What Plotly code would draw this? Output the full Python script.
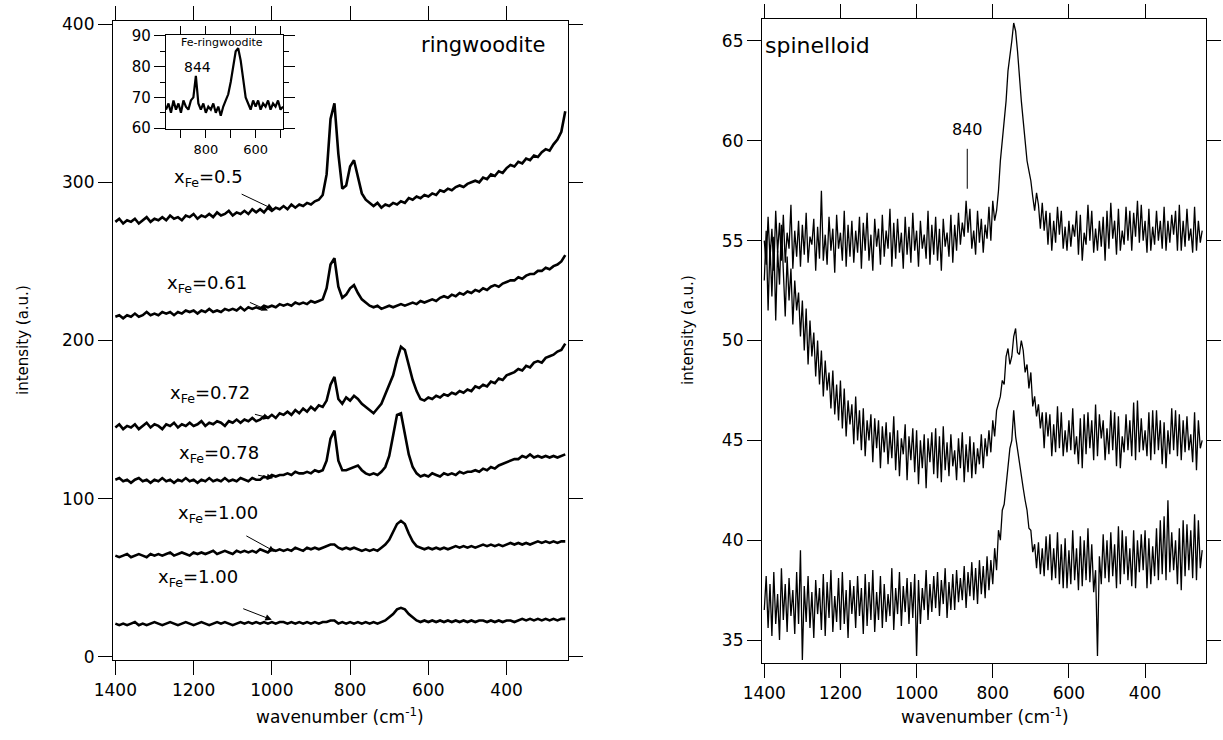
import plotly.graph_objects as go

# ---------------- data ----------------
WN = [1400, 1390, 1380, 1370, 1360, 1350, 1340, 1330, 1320, 1310,
      1300, 1290, 1280, 1270, 1260, 1250, 1240, 1230, 1220, 1210,
      1200, 1190, 1180, 1170, 1160, 1150, 1140, 1130, 1120, 1110,
      1100, 1090, 1080, 1070, 1060, 1050, 1040, 1030, 1020, 1010,
      1000, 990, 980, 970, 960, 950, 940, 930, 920, 910,
      900, 890, 880, 870, 860, 850, 840, 830, 820, 810,
      800, 790, 780, 770, 760, 750, 740, 730, 720, 710,
      700, 690, 680, 670, 660, 650, 640, 630, 620, 610,
      600, 590, 580, 570, 560, 550, 540, 530, 520, 510,
      500, 490, 480, 470, 460, 450, 440, 430, 420, 410,
      400, 390, 380, 370, 360, 350, 340, 330, 320, 310,
      300, 290, 280, 270, 260, 250]

ring_050 = [275, 277, 274, 276, 275, 277, 274, 276, 278, 275,
            277, 276, 278, 276, 279, 277, 278, 276, 279, 278,
            280, 277, 279, 278, 280, 278, 281, 279, 280, 282,
            279, 281, 280, 282, 280, 283, 281, 283, 281, 284,
            282, 284, 283, 285, 283, 286, 284, 286, 285, 287,
            286, 288, 289, 292, 305, 340, 350, 318, 296, 298,
            310, 314, 303, 293, 289, 287, 285, 287, 284, 286,
            285, 287, 286, 288, 287, 290, 289, 291, 290, 292,
            291, 293, 292, 295, 294, 296, 295, 297, 298, 297,
            299, 300, 301, 300, 303, 302, 305, 304, 307, 306,
            309, 311, 310, 313, 312, 315, 314, 317, 316, 319,
            321, 320, 324, 327, 332, 345]

ring_061 = [215, 216, 214, 216, 215, 217, 215, 216, 218, 216,
            217, 216, 218, 217, 218, 216, 218, 217, 219, 218,
            219, 217, 219, 218, 220, 218, 219, 218, 220, 219,
            220, 219, 221, 219, 221, 220, 221, 220, 222, 221,
            222, 221, 223, 222, 223, 222, 224, 223, 224, 223,
            225, 224, 225, 226, 233, 248, 252, 234, 227, 229,
            233, 235, 230, 226, 224, 222, 221, 222, 220, 221,
            222, 221, 222, 223, 222, 223, 224, 223, 225, 224,
            225, 226, 225, 227, 228, 227, 229, 228, 230, 229,
            231, 230, 232, 231, 233, 232, 234, 235, 234, 236,
            237, 238, 238, 240, 239, 241, 242, 242, 244, 244,
            246, 245, 247, 248, 250, 254]

ring_072 = [145, 147, 144, 146, 145, 147, 144, 146, 148, 145,
            147, 146, 144, 147, 146, 148, 145, 147, 146, 148,
            146, 147, 149, 146, 148, 147, 149, 148, 146, 149,
            148, 150, 148, 150, 149, 151, 149, 150, 152, 151,
            153, 151, 154, 153, 155, 153, 156, 154, 157, 155,
            158, 156, 159, 158, 162, 172, 177, 163, 160, 164,
            162, 165, 163, 160, 158, 156, 154, 157, 160, 166,
            172, 178, 188, 196, 194, 184, 175, 168, 163, 162,
            164, 163, 165, 164, 166, 165, 167, 166, 168, 167,
            169, 168, 171, 170, 172, 171, 174, 173, 176, 175,
            178, 179, 180, 182, 181, 184, 183, 186, 187, 186,
            189, 190, 191, 193, 194, 198]

ring_078 = [112, 113, 111, 112, 110, 112, 113, 111, 112, 110,
            112, 111, 113, 111, 112, 110, 112, 111, 113, 111,
            112, 110, 112, 111, 113, 111, 112, 111, 113, 111,
            112, 111, 113, 112, 111, 113, 112, 112, 114, 113,
            115, 114, 115, 115, 116, 115, 117, 116, 116, 117,
            116, 118, 117, 118, 124, 138, 143, 124, 118, 118,
            119, 120, 121, 118, 116, 115, 116, 115, 117, 120,
            127, 140, 153, 154, 140, 128, 120, 116, 114, 115,
            114, 116, 115, 114, 116, 115, 116, 115, 117, 116,
            117, 117, 118, 117, 119, 118, 120, 119, 121, 122,
            123, 124, 125, 125, 127, 126, 128, 126, 127, 126,
            127, 126, 127, 126, 127, 128]

ring_100a = [64, 63, 64, 65, 63, 64, 65, 64, 63, 65,
             64, 65, 64, 65, 66, 64, 65, 66, 65, 64,
             66, 65, 66, 65, 66, 67, 65, 66, 67, 66,
             65, 67, 66, 67, 66, 67, 66, 68, 67, 66,
             68, 67, 68, 67, 68, 67, 69, 68, 67, 69,
             68, 69, 68, 69, 70, 71, 71, 69, 68, 69,
             68, 69, 68, 67, 68, 67, 68, 67, 69, 71,
             74, 79, 84, 86, 84, 78, 73, 70, 69, 68,
             69, 68, 69, 68, 69, 68, 69, 70, 69, 70,
             69, 70, 69, 70, 71, 70, 71, 70, 71, 70,
             71, 72, 71, 72, 71, 72, 71, 72, 73, 72,
             73, 72, 73, 72, 73, 73]

ring_100b = [21, 20, 21, 20, 21, 22, 20, 21, 20, 21,
             22, 21, 20, 21, 22, 21, 20, 21, 22, 21,
             20, 21, 22, 21, 20, 21, 22, 21, 22, 21,
             20, 21, 22, 21, 22, 21, 22, 21, 22, 21,
             22, 21, 22, 22, 21, 22, 21, 22, 21, 22,
             21, 22, 21, 22, 22, 23, 23, 21, 22, 21,
             22, 21, 22, 21, 22, 21, 22, 21, 22, 23,
             25, 27, 30, 31, 30, 27, 25, 23, 22, 23,
             22, 23, 22, 23, 22, 23, 22, 23, 22, 23,
             22, 23, 22, 23, 23, 22, 23, 22, 23, 22,
             23, 23, 22, 23, 24, 23, 24, 23, 24, 23,
             24, 23, 24, 23, 24, 24]

WN_INSET = [960, 950, 940, 930, 920, 910, 900, 890, 880, 870,
            860, 850, 840, 830, 820, 810, 800, 790, 780, 770,
            760, 750, 740, 730, 720, 710, 700, 690, 680, 670,
            660, 650, 640, 630, 620, 610, 600, 590, 580, 570,
            560, 550, 540, 530, 520, 510, 500, 490]
fe_ring_inset = [66, 68, 65, 69, 66, 68, 65, 69, 67, 66,
                 69, 70, 77, 68, 66, 68, 65, 67, 66, 68,
                 65, 67, 64, 67, 69, 71, 75, 80, 85, 86,
                 82, 76, 70, 68, 66, 69, 67, 69, 66, 68,
                 67, 69, 66, 68, 67, 69, 66, 67]

# spinelloid spectra, read every 5 cm-1
WN5 = [1400, 1395, 1390, 1385, 1380, 1375, 1370, 1365, 1360, 1355,
       1350, 1345, 1340, 1335, 1330, 1325, 1320, 1315, 1310, 1305,
       1300, 1295, 1290, 1285, 1280, 1275, 1270, 1265, 1260, 1255,
       1250, 1245, 1240, 1235, 1230, 1225, 1220, 1215, 1210, 1205,
       1200, 1195, 1190, 1185, 1180, 1175, 1170, 1165, 1160, 1155,
       1150, 1145, 1140, 1135, 1130, 1125, 1120, 1115, 1110, 1105,
       1100, 1095, 1090, 1085, 1080, 1075, 1070, 1065, 1060, 1055,
       1050, 1045, 1040, 1035, 1030, 1025, 1020, 1015, 1010, 1005,
       1000, 995, 990, 985, 980, 975, 970, 965, 960, 955,
       950, 945, 940, 935, 930, 925, 920, 915, 910, 905,
       900, 895, 890, 885, 880, 875, 870, 865, 860, 855,
       850, 845, 840, 835, 830, 825, 820, 815, 810, 805,
       800, 795, 790, 785, 780, 775, 770, 765, 760, 755,
       750, 745, 740, 735, 730, 725, 720, 715, 710, 705,
       700, 695, 690, 685, 680, 675, 670, 665, 660, 655,
       650, 645, 640, 635, 630, 625, 620, 615, 610, 605,
       600, 595, 590, 585, 580, 575, 570, 565, 560, 555,
       550, 545, 540, 535, 530, 525, 520, 515, 510, 505,
       500, 495, 490, 485, 480, 475, 470, 465, 460, 455,
       450, 445, 440, 435, 430, 425, 420, 415, 410, 405,
       400, 395, 390, 385, 380, 375, 370, 365, 360, 355,
       350, 345, 340, 335, 330, 325, 320, 315, 310, 305,
       300, 295, 290, 285, 280, 275, 270, 265, 260, 255,
       250]

spin_top = [55, 53.8, 56.2, 54.1, 55.6, 53.5, 56.5, 54.4, 55.9, 54,
            56.3, 53.9, 55.4, 54.6, 56.8, 53.6, 55.5, 54.2, 56, 53.7,
            55.8, 54.3, 56.4, 53.9, 55.2, 54.8, 56.1, 53.5, 55.7, 54.1,
            57.5, 54, 55.3, 53.8, 56.2, 54.5, 55.6, 53.4, 56.3, 54.6,
            55.4, 54, 56.5, 53.7, 55.8, 54.2, 56, 53.9, 55.5, 54.4,
            56.2, 53.6, 55.9, 54.5, 56.4, 54, 55.3, 53.5, 56.1, 54.7,
            55.6, 53.8, 56.3, 54.2, 55.5, 54.6, 56.6, 53.7, 55.9, 54.1,
            56.1, 54.4, 55.4, 53.6, 56.2, 54.3, 55.7, 53.9, 56.4, 54.5,
            55.5, 53.7, 56, 54.6, 55.3, 54.1, 56.5, 53.8, 55.8, 54.3,
            56.2, 54, 55.6, 53.5, 56.1, 54.7, 55.4, 54.2, 56.3, 53.9,
            55.8, 54.5, 56.4, 54.8, 55.9, 55.2, 57.0, 55.4, 56.6, 54.6,
            55.5, 54.3, 56.5, 54.9, 56.1, 54.4, 55.8, 55.1, 56.7, 55,
            57, 56, 56.5, 57.5, 59, 60, 61, 62, 63.5, 64.2,
            65, 65.9, 65.5, 64.5, 63, 62, 61, 60, 59, 58.5,
            58, 57.2, 56.5, 57.4, 56.8, 55.6, 56.9, 55.5, 56.5, 54.8,
            56.4, 54.5, 56, 54.9, 56.7, 55.3, 56.5, 54.6, 55.7, 54.5,
            56, 54.7, 55.8, 55.2, 56.5, 54.3, 56.3, 54, 55.4, 54.8,
            56.8, 55, 56.5, 54.4, 55.6, 54.5, 56, 54.7, 56.2, 54,
            56.5, 54.6, 56.9, 55.1, 56, 54.3, 56.6, 54.5, 55.5, 54.8,
            56.7, 55, 56.5, 54.5, 56.4, 55.2, 57, 54.9, 56.8, 55,
            56, 54.4, 56.6, 54.5, 55.7, 54.8, 56.5, 55, 56, 54.6,
            56.7, 54.5, 56, 54.9, 56.3, 55.3, 56.5, 54.5, 56.8, 54.5,
            56, 54.7, 56.6, 55, 55.6, 54.4, 56.7, 54.5, 56, 54.9,
            55.5]

spin_mid = [53, 55.5, 51.5, 54.8, 52.2, 55.2, 51, 54.5, 52.8, 55.8,
            53.5, 51.2, 54.2, 52, 53.6, 50.8, 53, 51.5, 52.4, 50.2,
            52, 49.5, 51.6, 48.8, 51, 49.2, 50.4, 48.2, 50, 47.8,
            49.5, 47.2, 49, 47.5, 48.4, 46.6, 48.5, 46.3, 47.8, 46,
            48, 45.6, 47.6, 45.2, 47, 45.8, 46.8, 44.8, 47.2, 45,
            46.5, 44.5, 46.6, 44.2, 46, 45, 46.3, 43.9, 46.1, 44.6,
            46, 43.6, 45.7, 44.4, 45.9, 43.8, 45.4, 44.1, 46.2, 43.5,
            45.5, 43.2, 45.1, 44.3, 45.8, 43, 45.2, 44, 45.6, 43.4,
            45.5, 42.8, 45, 43.6, 45.3, 42.6, 45.1, 43.9, 45.4, 43.3,
            45.6, 43.1, 45.2, 42.9, 45.7, 43.5, 44.9, 43.2, 45.3, 43.7,
            44.5, 43, 45.1, 43.6, 45.4, 42.9, 44.8, 43.4, 45.2, 43.1,
            44.9, 43.3, 44.6, 43.8, 45.3, 43.6, 45.1, 44.2, 45.5, 44.4,
            46, 45.2, 46.5, 46.8, 47.2, 48, 47.8, 49.2, 49.6, 48.8,
            49.2, 50.2, 50.6, 49.4, 49.3, 50, 49.5, 48.4, 48.8, 47.6,
            48.4, 46.7, 47.2, 46.2, 46.8, 45.6, 46.4, 44.6, 46.4, 45.2,
            46.3, 44.2, 45.8, 44.4, 46.7, 44.6, 46.4, 44.2, 45.5, 44.4,
            46, 44.5, 46.6, 44.3, 45.2, 43.8, 46.1, 43.6, 46.3, 44.3,
            46.4, 44.6, 46, 44, 46.8, 44.2, 46.3, 45.1, 46, 44,
            45.6, 44.3, 46.5, 44.5, 46.4, 43.7, 46.2, 43.6, 45.2, 44.4,
            46.3, 44.5, 46, 44.2, 46.9, 44, 47, 44.4, 46.1, 44.5,
            45.5, 44.2, 46.4, 44, 46.5, 44.3, 46.5, 44.5, 46, 43.8,
            45.9, 43.6, 45.5, 44.3, 46.6, 44.5, 46.5, 44.2, 46.3, 44,
            46, 44.4, 46.2, 44.5, 45.3, 43.9, 46.4, 43.5, 46, 44.6,
            45]

spin_bot = [36.5, 38.2, 35.6, 37.8, 35.2, 38.4, 35.8, 37.3, 35, 38.6,
            36, 37.8, 35.4, 38.1, 36.2, 37.5, 35.3, 38.4, 35.8, 39.5,
            34, 37.7, 35.9, 38.2, 35.6, 37.4, 35.1, 38, 36.3, 37.6,
            35.5, 38.3, 35.2, 37.9, 36.1, 38.5, 35.4, 37.2, 35.9, 38.1,
            35.5, 38.4, 35.8, 37.5, 35.1, 38, 36.3, 37.7, 35.6, 38.2,
            36.2, 37.6, 35.3, 38.3, 35.7, 37.9, 36, 38.5, 35.4, 37.4,
            36, 38.2, 35.6, 37.8, 35.9, 37.3, 36.2, 38.6, 35.5, 37.6,
            36.3, 38.4, 35.7, 37.7, 36.4, 38.1, 35.8, 37.9, 36.1, 38.3,
            34.2, 38, 35.8, 37.6, 36.5, 38.5, 36, 37.8, 36.4, 38.2,
            36.6, 38.4, 36.2, 38, 36.8, 38.6, 36.1, 37.9, 36.5, 38.3,
            36.5, 38.5, 36.9, 38.1, 37, 38.7, 36.6, 38.4, 37.2, 38.9,
            37, 38.6, 36.8, 39, 37.3, 38.7, 37.1, 39.2, 37.5, 39,
            37.8, 39.6, 38.5, 40.5, 40, 41.5, 41.8, 42.8, 43.5, 44.6,
            45, 46.5, 45.2, 44.5, 44, 43.3, 42.6, 42, 41.5, 40.6,
            40.5, 39.4, 39.8, 38.6, 39.9, 38.3, 39.6, 38.2, 40.2, 38.5,
            40.3, 38, 39.6, 38.1, 40.4, 37.8, 39.8, 37.6, 40.1, 37.6,
            39.5, 37.8, 40.5, 38, 39.6, 37.5, 40.2, 37.7, 40, 38,
            40.6, 37.9, 39.8, 37.4, 38.5, 34.2, 39.2, 37.8, 40.3, 38.1,
            40, 37.9, 40.4, 38.2, 39.8, 37.6, 40.7, 37.8, 40.5, 38.3,
            40.2, 38, 39.6, 37.7, 40.5, 37.6, 40, 38.4, 40.3, 38.5,
            40.5, 37.6, 40.1, 37.8, 39.7, 38.2, 40.6, 38, 41, 38.3,
            41.2, 38, 42, 38.4, 40.4, 38.5, 40, 37.8, 40.6, 37.5,
            41, 38.2, 40.8, 38.5, 40.5, 38.1, 41.3, 38, 41, 38.6,
            39.5]

LEFT_SERIES = [ring_050, ring_061, ring_072, ring_078, ring_100a, ring_100b]
RIGHT_SERIES = [spin_top, spin_mid, spin_bot]
for s in LEFT_SERIES:
    assert len(s) == len(WN), len(s)
for s in RIGHT_SERIES:
    assert len(s) == len(WN5), len(s)
assert len(fe_ring_inset) == len(WN_INSET)

LEFT_LABELS = ["0.5", "0.61", "0.72", "0.78", "1.00", "1.00"]

# ---------------- figure ----------------
FONT = "DejaVu Sans"
W, H = 1223, 740

fig = go.Figure()
for s in LEFT_SERIES:
    fig.add_trace(go.Scatter(x=WN, y=s, mode="lines", xaxis="x", yaxis="y",
                             line=dict(color="black", width=2.6),
                             showlegend=False, hoverinfo="skip"))
fig.add_trace(go.Scatter(x=WN_INSET, y=fe_ring_inset, mode="lines", xaxis="x3", yaxis="y3",
                         line=dict(color="black", width=2.2),
                         showlegend=False, hoverinfo="skip"))
for s in RIGHT_SERIES:
    fig.add_trace(go.Scatter(x=WN5, y=s, mode="lines", xaxis="x2", yaxis="y2",
                             line=dict(color="black", width=1.3),
                             showlegend=False, hoverinfo="skip"))

def axstyle(size=17, ticklen=14):
    return dict(showline=True, linecolor="black", linewidth=1.2, mirror="allticks",
                ticks="outside", ticklen=ticklen, tickwidth=1.2, tickcolor="black",
                showgrid=False, zeroline=False, automargin=False,
                tickfont=dict(family=FONT, size=size, color="black"))

def px_x(p):
    return p / W

def px_y(p):
    return 1 - p / H

fig.update_layout(
    width=W, height=H, margin=dict(l=0, r=0, t=0, b=0, pad=0, autoexpand=False),
    paper_bgcolor="white", plot_bgcolor="white",
    font=dict(family=FONT, color="black", size=14),
    xaxis=dict(domain=[px_x(113), px_x(568)], range=[1406, 243], anchor="y",
               tickvals=[1400, 1200, 1000, 800, 600, 400], **axstyle()),
    yaxis=dict(domain=[px_y(660), px_y(21)], range=[-2, 402], anchor="x",
               tickvals=[0, 100, 200, 300, 400], **axstyle()),
    xaxis2=dict(domain=[px_x(762), px_x(1206)], range=[1406, 240], anchor="y2",
                tickvals=[1400, 1200, 1000, 800, 600, 400], **axstyle()),
    yaxis2=dict(domain=[px_y(663), px_y(19)], range=[33.85, 66.1], anchor="x2",
                tickvals=[35, 40, 45, 50, 55, 60, 65], **axstyle()),
    xaxis3=dict(domain=[px_x(166), px_x(283)], range=[960, 490], anchor="y3",
                tickvals=[900, 800, 700, 600, 500], ticktext=["", "800", "", "600", ""],
                **axstyle(size=13, ticklen=8)),
    yaxis3=dict(domain=[px_y(129), px_y(35)], range=[59.7, 90.3], anchor="x3",
                tickvals=[60, 70, 80, 90],
                minor=dict(ticks="outside", ticklen=5, tickvals=[65, 75, 85], tickcolor="black"),
                **axstyle(size=15, ticklen=11)),
)

def text_ann(text, x, y, size, **kw):
    d = dict(text=text, x=x, y=y, xref="paper", yref="paper", xanchor="center",
             yanchor="middle", showarrow=False, font=dict(size=size))
    d.update(kw)
    return d

ann = []
# axis titles
ann.append(text_ann("intensity (a.u.)", px_x(23), px_y(340), 15, textangle=-90))
ann.append(text_ann("intensity (a.u.)", px_x(688), px_y(330), 15, textangle=-90))
ann.append(text_ann("wavenumber (cm<sup>-1</sup>)", px_x(340), px_y(716), 17))
ann.append(text_ann("wavenumber (cm<sup>-1</sup>)", px_x(985), px_y(716), 17))
# panel titles
ann.append(text_ann("ringwoodite", px_x(483), px_y(45), 21))
ann.append(text_ann("spinelloid", px_x(817), px_y(45), 22))
# inset texts
ann.append(text_ann("Fe-ringwoodite", px_x(222), px_y(43), 11))
ann.append(text_ann("844", px_x(197), px_y(67), 14))

# composition labels (label position, arrow tail, arrow head) in data units
label_pos = [(1163, 303), (1165, 236), (1158, 166), (1135, 128), (1138, 90), (1189, 50)]
arrow_tail = [(1081, 293), (1060, 224.5), (1047, 153.6), (1039, 115), (1069, 77), (1077, 30.8)]
arrow_head = [(996, 283), (1010, 219), (1005, 150.8), (996, 113), (992, 66.5), (1000, 23.4)]
for lab, (lx, ly), (tx, ty), (hx, hy) in zip(LEFT_LABELS, label_pos, arrow_tail, arrow_head):
    ann.append(dict(text="x<sub>Fe</sub>=" + lab, x=lx, y=ly, xref="x", yref="y",
                    xanchor="center", yanchor="middle",
                    showarrow=False, font=dict(size=18)))
    ann.append(dict(text="", x=hx, y=hy, ax=tx, ay=ty, xref="x", yref="y", axref="x", ayref="y",
                    showarrow=True, arrowhead=2, arrowsize=1.3, arrowwidth=1, arrowcolor="black",
                    font=dict(size=12)))

# 840 marker on spinelloid
ann.append(dict(text="840", x=867, y=60.0, xref="x2", yref="y2", xanchor="center", yanchor="bottom",
                showarrow=False, font=dict(size=16)))
fig.update_layout(annotations=ann)
fig.add_shape(type="line", x0=867, x1=867, y0=57.6, y1=59.6, xref="x2", yref="y2",
              line=dict(color="black", width=1))

fig.write_html("out.html")
